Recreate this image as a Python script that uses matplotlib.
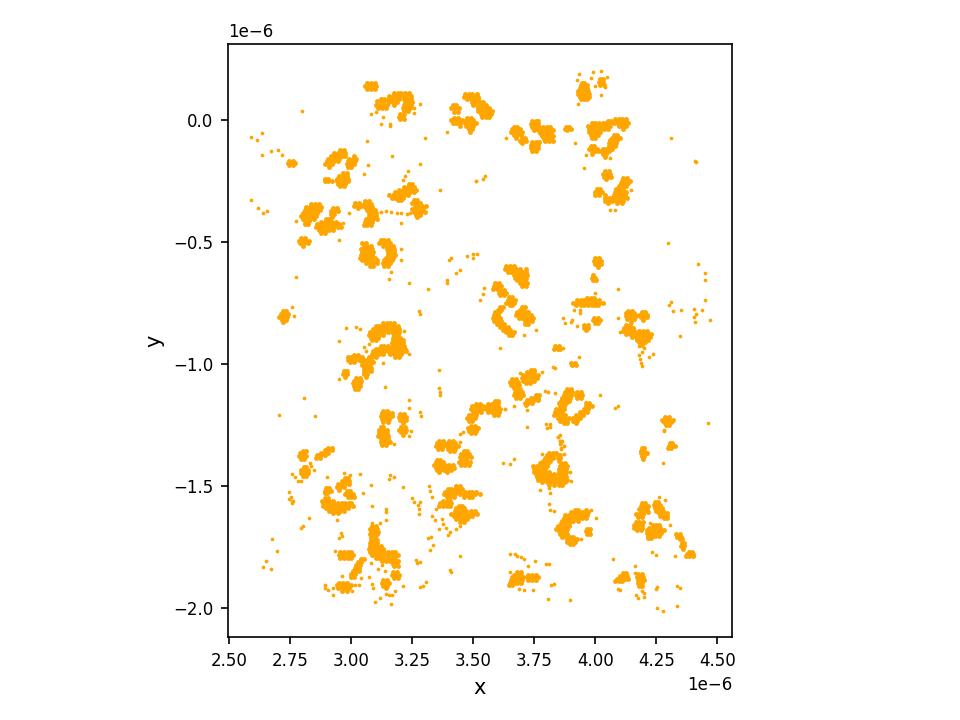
import matplotlib
matplotlib.use('Agg')
import matplotlib.pyplot as plt

# localisations, in units of 1e-6
# each entry is (y, [x values at that y])
north_west = [
    (.152, [3.065, 3.08, 3.095]), (.14, [3.055, 3.07, 3.085, 3.10]), (.128, [3.065, 3.08, 3.095]),
    (.09, [3.12, 3.135]), (.078, [3.105, 3.12, 3.135]), (.065, [3.10, 3.115, 3.13, 3.145]), (.052, [3.11, 3.125, 3.14]),
    (.112, [3.175, 3.19, 3.205, 3.22, 3.235]), (.10, [3.155, 3.17, 3.185, 3.20, 3.215, 3.23, 3.245]),
    (.088, [3.15, 3.165, 3.18, 3.195, 3.215, 3.23, 3.245]), (.075, [3.155, 3.17, 3.185, 3.22, 3.235, 3.25]),
    (.062, [3.175, 3.215, 3.23, 3.245]), (.05, [3.21, 3.225, 3.24]), (.038, [3.215, 3.23]),
    (.028, [3.20, 3.215]), (.016, [3.195, 3.21]), (.006, [3.20, 3.215]),
    (-.122, [2.955, 2.97]), (-.133, [2.93, 2.945, 2.96, 2.975]), (-.145, [2.915, 2.93, 2.945, 2.96, 2.975, 3.01]),
    (-.157, [2.905, 2.92, 2.935, 2.95, 2.99, 3.005, 3.02]), (-.168, [2.90, 2.915, 2.93, 2.945, 2.985, 3.0, 3.015]),
    (-.18, [2.892, 2.907, 2.922, 2.98, 2.995, 3.01]), (-.192, [2.91, 2.985, 3.0]),
    (-.217, [2.965, 2.98]), (-.228, [2.95, 2.965, 2.98]), (-.24, [2.89, 2.905, 2.94, 2.955, 2.97, 2.985]),
    (-.25, [2.89, 2.905, 2.92, 2.94, 2.955, 2.97, 2.985]), (-.26, [2.945, 2.96, 2.975]), (-.27, [2.955, 2.97]),
    (-.165, [2.745, 2.76]), (-.175, [2.74, 2.755, 2.768]), (-.183, [2.745, 2.76]),
    (-.342, [2.835, 2.85, 2.865]), (-.354, [2.815, 2.83, 2.845, 2.86, 2.875]), (-.366, [2.81, 2.825, 2.84, 2.855, 2.87]),
    (-.378, [2.80, 2.815, 2.83, 2.845, 2.86]), (-.39, [2.795, 2.81, 2.825, 2.84, 2.855]),
    (-.402, [2.80, 2.815, 2.83, 2.845]), (-.414, [2.81, 2.825]), (-.425, [2.81, 2.82]),
    (-.36, [2.925, 2.94]), (-.372, [2.915, 2.93, 2.945]), (-.384, [2.915, 2.93]), (-.394, [2.92]),
    (-.405, [2.895, 2.91]), (-.415, [2.875, 2.89, 2.905, 2.92, 2.935]),
    (-.426, [2.86, 2.875, 2.89, 2.905, 2.92, 2.935, 2.95]), (-.437, [2.855, 2.87, 2.885, 2.90, 2.915, 2.93, 2.945, 2.958]),
    (-.448, [2.865, 2.88, 2.895, 2.91, 2.925]), (-.46, [2.875, 2.89]),
    (-.482, [2.795, 2.81]), (-.493, [2.785, 2.80, 2.815, 2.825]), (-.504, [2.79, 2.805, 2.82]), (-.514, [2.80]),
    (-.337, [3.015, 3.03]), (-.35, [3.01, 3.025, 3.04]), (-.36, [3.025]),
    (-.332, [3.055, 3.07]), (-.344, [3.05, 3.065, 3.08]), (-.356, [3.055, 3.07, 3.085]), (-.368, [3.065, 3.08, 3.095]),
    (-.38, [3.07, 3.085, 3.10]), (-.392, [3.07, 3.085, 3.10]), (-.404, [3.06, 3.075, 3.09, 3.105]),
    (-.416, [3.055, 3.07, 3.085]), (-.428, [3.05, 3.065, 3.08]),
    (-.262, [3.235, 3.25]), (-.273, [3.215, 3.23, 3.245, 3.258]), (-.284, [3.195, 3.21, 3.225, 3.24, 3.255, 3.265]),
    (-.295, [3.18, 3.195, 3.21, 3.225, 3.24, 3.255]), (-.306, [3.155, 3.17, 3.185, 3.20, 3.215, 3.23]),
    (-.317, [3.165, 3.18, 3.195, 3.21]), (-.328, [3.19, 3.205]),
    (-.325, [3.255, 3.27]), (-.337, [3.25, 3.265, 3.28]), (-.35, [3.26, 3.275, 3.29, 3.305]),
    (-.362, [3.25, 3.265, 3.28, 3.295]), (-.374, [3.255, 3.27, 3.285, 3.30]), (-.386, [3.265, 3.28]), (-.396, [3.27]),
    (-.49, [3.12, 3.135, 3.15]), (-.502, [3.045, 3.06, 3.115, 3.13, 3.145, 3.16]), (-.514, [3.05, 3.065, 3.08, 3.13, 3.145, 3.16, 3.172]),
    (-.526, [3.04, 3.055, 3.07, 3.085, 3.145, 3.16, 3.175]), (-.538, [3.045, 3.06, 3.075, 3.09, 3.15, 3.165, 3.175]),
    (-.55, [3.04, 3.055, 3.07, 3.085, 3.15, 3.165, 3.178]), (-.562, [3.036, 3.05, 3.065, 3.08, 3.095, 3.14, 3.155, 3.17]),
    (-.574, [3.045, 3.06, 3.075, 3.09, 3.105, 3.135, 3.15, 3.165]), (-.586, [3.06, 3.075, 3.09, 3.105, 3.13, 3.145, 3.16]),
    (-.598, [3.075, 3.09, 3.135, 3.15]),
]

north_east = [
    (.062, [3.415, 3.43]), (.05, [3.41, 3.425, 3.44]), (.036, [3.42, 3.435]),
    (.11, [3.465, 3.48, 3.495, 3.515]), (.098, [3.46, 3.475, 3.49, 3.505, 3.52]), (.086, [3.475, 3.49, 3.505, 3.52]),
    (.074, [3.495, 3.51, 3.525, 3.54]), (.062, [3.50, 3.515, 3.53, 3.55]), (.05, [3.52, 3.535, 3.55, 3.565]),
    (.038, [3.52, 3.535, 3.55, 3.565, 3.575]), (.026, [3.53, 3.545, 3.56, 3.572]), (.014, [3.535, 3.55, 3.565]),
    (.01, [3.42, 3.435, 3.475, 3.49]), (0., [3.41, 3.425, 3.44, 3.455, 3.47, 3.485, 3.50]),
    (-.012, [3.415, 3.43, 3.445, 3.465, 3.48, 3.495, 3.51]), (-.024, [3.445, 3.47, 3.485, 3.50]), (-.036, [3.48, 3.495]), (-.046, [3.485]),
    (-.025, [3.665, 3.68]), (-.036, [3.66, 3.675, 3.69]), (-.048, [3.655, 3.67, 3.685, 3.70]), (-.06, [3.665, 3.68, 3.695]),
    (-.072, [3.675, 3.70, 3.712]), (-.083, [3.69, 3.705, 3.715]), (-.093, [3.70]),
    (-.002, [3.74, 3.755, 3.765]), (-.014, [3.735, 3.75, 3.765]), (-.026, [3.74, 3.755, 3.77, 3.785, 3.80, 3.815]),
    (-.038, [3.75, 3.765, 3.78, 3.795, 3.81, 3.825]), (-.05, [3.775, 3.79, 3.805, 3.82]), (-.062, [3.78, 3.795, 3.81, 3.825]),
    (-.074, [3.79, 3.805, 3.82]), (-.085, [3.795, 3.81, 3.825]),
    (-.09, [3.74, 3.755, 3.768]), (-.102, [3.735, 3.75, 3.765]), (-.114, [3.735, 3.75, 3.765]), (-.126, [3.74, 3.755]),
    (-.028, [3.88, 3.893]), (-.04, [3.885]), (-.034, [3.875, 3.898]),
    (.155, [3.945, 3.955]), (.145, [3.94, 3.955, 3.965]), (.134, [3.935, 3.95, 3.965]), (.122, [3.93, 3.945, 3.96, 3.97]),
    (.11, [3.93, 3.945, 3.96, 3.975]), (.098, [3.935, 3.95, 3.965, 3.975]), (.086, [3.94, 3.955, 3.965]),
    (.17, [4.02, 4.03]), (.158, [4.015, 4.03]), (.146, [4.02, 4.035]),
    (-.002, [4.05, 4.065, 4.08, 4.095, 4.11, 4.125]), (-.012, [4.03, 4.045, 4.06, 4.075, 4.09, 4.105, 4.12, 4.135]),
    (.004, [4.08, 4.095, 4.11, 4.125]),
    (-.012, [3.985, 4.0, 4.015]), (-.022, [3.97, 3.985, 4.0, 4.015, 4.03, 4.045, 4.06, 4.095, 4.11, 4.125]),
    (-.034, [3.975, 3.99, 4.005, 4.02, 4.035, 4.05, 4.115]), (-.046, [3.975, 3.99, 4.005, 4.02]),
    (-.058, [3.98, 3.995, 4.01, 4.075, 4.09]), (-.07, [3.985, 4.0, 4.07, 4.085, 4.10]),
    (-.082, [4.06, 4.075, 4.09]), (-.094, [4.055, 4.07, 4.085]), (-.106, [3.98, 3.995, 4.055, 4.07, 4.08]),
    (-.116, [3.975, 3.99, 4.005, 4.03, 4.045, 4.06, 4.07]), (-.127, [3.985, 4.0, 4.012, 4.025, 4.04, 4.055]),
    (-.138, [3.985, 4.03, 4.045]), (-.148, [4.04]),
    (-.207, [4.04, 4.055]), (-.218, [4.03, 4.045, 4.06]), (-.23, [4.035, 4.05, 4.065]), (-.24, [4.045]),
    (-.236, [4.115, 4.13]), (-.247, [4.11, 4.125, 4.14]), (-.258, [4.105, 4.12, 4.135]), (-.27, [4.095, 4.11, 4.125]),
    (-.282, [4.085, 4.10, 4.115, 4.005, 4.02]), (-.294, [4.08, 4.095, 4.11, 4.125, 3.998, 4.013, 4.028]),
    (-.306, [4.075, 4.09, 4.105, 4.12, 4.04, 3.998, 4.013]), (-.318, [4.04, 4.055, 4.07, 4.085, 4.10, 4.115, 4.128]),
    (-.33, [4.04, 4.055, 4.07, 4.085, 4.10, 4.115]), (-.34, [4.05, 4.09, 4.11]),
]

middle_left = [
    (-.782, [2.72, 2.73]), (-.792, [2.712, 2.727, 2.74]), (-.804, [2.705, 2.72, 2.735]), (-.816, [2.715, 2.73]), (-.826, [2.72]),
    (-.832, [3.13, 3.145, 3.16, 3.175]), (-.843, [3.10, 3.115, 3.13, 3.145, 3.16, 3.175, 3.19]),
    (-.855, [3.09, 3.105, 3.12, 3.135, 3.15, 3.165, 3.18, 3.195]), (-.867, [3.075, 3.09, 3.105, 3.12, 3.135, 3.15, 3.165, 3.18, 3.195]),
    (-.879, [3.07, 3.085, 3.10, 3.115, 3.13, 3.175, 3.19]), (-.891, [3.08, 3.095, 3.11, 3.17, 3.185, 3.20]),
    (-.901, [3.085, 3.10, 3.17, 3.185, 3.20, 3.21]), (-.913, [3.165, 3.18, 3.195, 3.21]),
    (-.924, [3.12, 3.135, 3.15, 3.17, 3.185, 3.20, 3.215]), (-.935, [3.10, 3.115, 3.13, 3.145, 3.16, 3.175, 3.19, 3.205, 3.22]),
    (-.947, [3.09, 3.105, 3.12, 3.135, 3.15, 3.165, 3.18, 3.195, 3.21, 3.222]), (-.959, [3.085, 3.10, 3.115, 3.13, 3.16, 3.175, 3.19, 3.205]),
    (-.97, [3.07, 3.085, 3.10, 3.18, 3.195]),
    (-.96, [3.01, 3.025]), (-.97, [2.985, 3.0, 3.015, 3.03, 3.045]), (-.981, [2.985, 3.0, 3.015, 3.03, 3.05, 3.065, 3.08]),
    (-.992, [2.995, 3.01, 3.045, 3.06, 3.075, 3.09]), (-1.004, [3.045, 3.06, 3.075]), (-1.016, [3.05, 3.065, 3.08]),
    (-1.028, [3.05, 3.065, 3.08, 2.97, 2.98]), (-1.04, [3.05, 3.065, 2.965, 2.98]), (-1.05, [3.06, 2.975]),
    (-1.056, [3.02, 3.035]), (-1.066, [3.01, 3.025, 3.04]), (-1.078, [3.005, 3.02, 3.035]), (-1.09, [3.01, 3.025, 3.035]), (-1.102, [3.015, 3.025]),
    (-1.19, [3.13, 3.145]), (-1.2, [3.125, 3.14, 3.155, 3.165]), (-1.212, [3.12, 3.135, 3.15, 3.165]), (-1.224, [3.125, 3.14, 3.155]), (-1.236, [3.13, 3.15]),
    (-1.205, [3.20, 3.215]), (-1.217, [3.197, 3.21, 3.225]), (-1.229, [3.2, 3.215, 3.225]), (-1.24, [3.21]),
    (-1.256, [3.205, 3.22]), (-1.267, [3.197, 3.212, 3.225]), (-1.278, [3.205, 3.22]), (-1.288, [3.21]),
    (-1.258, [3.12, 3.13]), (-1.27, [3.115, 3.13, 3.145]), (-1.282, [3.115, 3.13, 3.145]), (-1.294, [3.11, 3.125, 3.14, 3.15]),
    (-1.306, [3.12, 3.135, 3.15]), (-1.318, [3.12, 3.135, 3.15, 3.16]), (-1.33, [3.125, 3.14]),
]

middle_right = [
    (-.597, [3.635, 3.65, 3.665]), (-.608, [3.63, 3.645, 3.66, 3.675, 3.69, 3.715]), (-.62, [3.64, 3.655, 3.67, 3.685, 3.70, 3.715]),
    (-.632, [3.665, 3.68, 3.695, 3.71, 3.72]), (-.644, [3.67, 3.685, 3.70, 3.715]), (-.656, [3.68, 3.695, 3.71]),
    (-.668, [3.69, 3.705, 3.72, 3.59, 3.605]), (-.68, [3.70, 3.715, 3.585, 3.60, 3.615]), (-.69, [3.58, 3.595, 3.61]),
    (-.695, [3.61, 3.625]), (-.706, [3.605, 3.62, 3.633]), (-.717, [3.61, 3.625]),
    (-.724, [3.645, 3.66]), (-.735, [3.64, 3.655, 3.67]), (-.747, [3.635, 3.65, 3.665]), (-.757, [3.65, 3.66]),
    (-.765, [3.61, 3.62, 3.70, 3.71]), (-.775, [3.60, 3.615, 3.69, 3.705]), (-.787, [3.59, 3.605, 3.68, 3.695, 3.71, 3.725]),
    (-.799, [3.585, 3.60, 3.675, 3.69, 3.705, 3.72, 3.735]), (-.811, [3.58, 3.595, 3.61, 3.685, 3.70, 3.715, 3.73, 3.745]),
    (-.823, [3.585, 3.60, 3.615, 3.71, 3.725, 3.74]), (-.835, [3.595, 3.61, 3.625, 3.71, 3.722]),
    (-.847, [3.61, 3.625, 3.64]), (-.858, [3.62, 3.635, 3.65]), (-.869, [3.635, 3.65, 3.665]), (-.88, [3.645, 3.66]),
    (-.565, [4.0, 4.015]), (-.577, [3.995, 4.01, 4.025]), (-.589, [4.0, 4.015, 4.023]), (-.6, [4.01]),
    (-.634, [3.99]), (-.645, [3.987, 3.998]), (-.654, [3.99, 4.002]),
    (-.728, [3.965, 3.98, 3.995]), (-.738, [3.925, 3.94, 3.955, 3.97, 3.985, 4.0, 4.015]),
    (-.748, [3.91, 3.925, 3.94, 3.955, 3.97, 3.985, 4.0, 4.015, 4.03]), (-.758, [3.92, 3.94, 3.955, 3.97, 3.985, 4.0, 4.012]),
    (-.808, [3.995, 4.01]), (-.82, [3.99, 4.005, 4.017]), (-.832, [4.0, 4.01]),
    (-.84, [3.953, 3.968]), (-.85, [3.955, 3.97]), (-.86, [3.96]),
    (-.78, [4.135, 4.15]), (-.79, [4.127, 4.142, 4.157]), (-.802, [4.125, 4.14, 4.155, 4.168]), (-.814, [4.13, 4.145, 4.16]), (-.825, [4.145]),
    (-.785, [4.19, 4.205]), (-.796, [4.18, 4.195, 4.21]), (-.807, [4.185, 4.20, 4.21]), (-.816, [4.195]),
    (-.838, [4.125, 4.14]), (-.85, [4.117, 4.13, 4.145, 4.155]), (-.862, [4.115, 4.13, 4.145, 4.16, 4.18, 4.195, 4.21]),
    (-.874, [4.125, 4.14, 4.155, 4.17, 4.185, 4.20, 4.215, 4.23]), (-.886, [4.15, 4.165, 4.18, 4.195, 4.21, 4.225]),
    (-.898, [4.17, 4.185, 4.20, 4.215]), (-.91, [4.18, 4.195, 4.205]), (-.92, [4.19]),
    (-.925, [3.835, 3.85]), (-.936, [3.83, 3.845, 3.855]), (-.993, [3.90, 3.915]), (-1.004, [3.905, 3.92]),
    (-1.022, [3.735, 3.75]), (-1.032, [3.72, 3.735, 3.75]), (-1.043, [3.705, 3.72, 3.735, 3.75, 3.765]),
    (-1.055, [3.70, 3.715, 3.73, 3.745, 3.76]), (-1.067, [3.705, 3.72, 3.735, 3.75]), (-1.078, [3.715, 3.73]),
    (-1.06, [3.66, 3.675]), (-1.072, [3.652, 3.667, 3.682]), (-1.084, [3.655, 3.67, 3.685]), (-1.095, [3.665, 3.68]),
    (-1.102, [3.68, 3.69]), (-1.114, [3.67, 3.685, 3.70]), (-1.126, [3.665, 3.68, 3.695, 3.705]), (-1.138, [3.675, 3.69]),
    (-1.125, [3.755, 3.768]), (-1.136, [3.735, 3.75, 3.765]), (-1.147, [3.72, 3.735, 3.75, 3.765]), (-1.158, [3.71, 3.725, 3.74]), (-1.168, [3.715]),
    (-1.1, [3.885, 3.90]), (-1.112, [3.875, 3.89, 3.905, 3.925, 3.94]), (-1.124, [3.87, 3.885, 3.90, 3.92, 3.935, 3.945]),
    (-1.136, [3.865, 3.88, 3.895, 3.925, 3.94]), (-1.148, [3.86, 3.875, 3.89]), (-1.16, [3.85, 3.865, 3.88, 3.96, 3.975]),
    (-1.172, [3.855, 3.87, 3.96, 3.975, 3.988]), (-1.184, [3.84, 3.855, 3.87, 3.955, 3.97]),
    (-1.196, [3.835, 3.85, 3.865, 3.935, 3.95, 3.965]), (-1.208, [3.83, 3.845, 3.86, 3.875, 3.92, 3.935, 3.95]),
    (-1.22, [3.845, 3.86, 3.875, 3.89, 3.91, 3.925, 3.935]), (-1.232, [3.855, 3.87, 3.885, 3.91, 3.925]), (-1.242, [3.87, 3.885, 3.92]),
    (-1.162, [3.51, 3.525, 3.56, 3.575]), (-1.172, [3.495, 3.51, 3.525, 3.54, 3.555, 3.57, 3.585, 3.60]),
    (-1.183, [3.49, 3.505, 3.52, 3.535, 3.55, 3.565, 3.58, 3.595, 3.61]), (-1.195, [3.50, 3.515, 3.53, 3.56, 3.575, 3.59, 3.605]),
    (-1.206, [3.48, 3.495, 3.51, 3.585, 3.60]), (-1.218, [3.475, 3.49, 3.505]), (-1.23, [3.48, 3.495]),
    (-1.15, [3.59, 3.6]), (-1.16, [3.585, 3.60]),
    (-1.252, [3.49, 3.505]), (-1.262, [3.478, 3.493, 3.508, 3.52]), (-1.273, [3.48, 3.495, 3.51]), (-1.283, [3.49, 3.505]),
    (-1.215, [4.285, 4.30]), (-1.226, [4.275, 4.29, 4.305, 4.317]), (-1.238, [4.28, 4.295, 4.31]), (-1.249, [4.29, 4.30]),
    (-1.322, [4.305, 4.315]), (-1.333, [4.30, 4.315, 4.325]), (-1.343, [4.298, 4.31]),
]

south_west = [
    (-1.354, [2.80, 2.812]), (-1.365, [2.79, 2.805]), (-1.377, [2.785, 2.80, 2.813]), (-1.388, [2.795, 2.805]),
    (-1.342, [2.905, 2.92]), (-1.352, [2.89, 2.905, 2.92]), (-1.362, [2.875, 2.89, 2.905]), (-1.373, [2.86, 2.875, 2.89]), (-1.384, [2.855, 2.87]),
    (-1.422, [2.805, 2.815]), (-1.433, [2.795, 2.81, 2.822]), (-1.445, [2.795, 2.81, 2.822]), (-1.456, [2.80, 2.812]),
    (-1.467, [2.975, 2.985]), (-1.478, [2.96, 2.975, 2.99]), (-1.49, [2.945, 2.96, 2.975, 2.99]), (-1.502, [2.94, 2.955, 2.97]), (-1.513, [2.95]),
    (-1.505, [2.895, 2.91]), (-1.517, [2.89, 2.905, 2.915]), (-1.529, [2.89, 2.90]),
    (-1.518, [2.98, 2.995]), (-1.53, [2.975, 2.99, 3.005]), (-1.542, [2.985, 3.0, 3.012]),
    (-1.548, [2.89, 2.905]), (-1.558, [2.88, 2.895, 2.91, 2.925]), (-1.568, [2.885, 2.90, 2.915, 2.93, 2.945, 2.96, 2.975, 2.99, 3.0]),
    (-1.579, [2.885, 2.90, 2.915, 2.93, 2.945, 2.96, 2.975, 2.99, 3.005]), (-1.59, [2.895, 2.91, 2.925, 2.94, 2.955, 2.97, 2.985]),
    (-1.601, [2.91, 2.925, 2.94, 2.955, 2.97]), (-1.611, [2.925, 2.945]),
    (-1.662, [3.085, 3.10]), (-1.673, [3.075, 3.09, 3.105]), (-1.685, [3.08, 3.095, 3.11]), (-1.697, [3.075, 3.09, 3.105]),
    (-1.709, [3.08, 3.095]), (-1.721, [3.08, 3.095, 3.105]), (-1.733, [3.075, 3.09, 3.105]),
    (-1.745, [3.075, 3.09, 3.105, 3.12]), (-1.757, [3.07, 3.085, 3.10, 3.115, 3.13]),
    (-1.769, [3.075, 3.09, 3.105, 3.12, 3.135, 3.15, 3.165, 3.18]), (-1.781, [3.085, 3.10, 3.115, 3.13, 3.145, 3.16, 3.175, 3.19]),
    (-1.793, [3.10, 3.115, 3.13, 3.15, 3.165, 3.18]), (-1.805, [3.125, 3.14, 3.16, 3.175, 3.19]),
    (-1.817, [3.17, 3.185]), (-1.828, [3.175, 3.19]),
    (-1.771, [2.955, 2.97, 2.985, 3.0]), (-1.782, [2.95, 2.965, 2.98, 2.995, 3.008]), (-1.793, [2.955, 2.97, 2.985, 3.0]),
    (-1.798, [3.04, 3.05]), (-1.81, [3.025, 3.04]), (-1.822, [3.02, 3.035]), (-1.834, [3.015, 3.03]),
    (-1.846, [3.005, 3.02, 3.03]), (-1.858, [3.0, 3.015]), (-1.87, [2.998, 3.01]),
    (-1.85, [3.17, 3.185]), (-1.862, [3.165, 3.18, 3.195]), (-1.874, [3.175, 3.19]),
    (-1.885, [3.13, 3.145]), (-1.897, [3.125, 3.14, 3.155]), (-1.908, [3.13, 3.145]), (-1.918, [3.14]),
    (-1.896, [2.95, 2.965, 2.98]), (-1.906, [2.94, 2.955, 2.97, 2.985, 2.998]), (-1.917, [2.945, 2.96, 2.975, 2.99]), (-1.928, [2.96, 2.98]),
    (-1.313, [3.36, 3.375, 3.40, 3.415]), (-1.324, [3.35, 3.365, 3.38, 3.395, 3.41, 3.425]), (-1.335, [3.345, 3.36, 3.375, 3.39, 3.405, 3.42, 3.437]),
    (-1.346, [3.355, 3.37, 3.395, 3.41, 3.425]), (-1.357, [3.405, 3.42]),
    (-1.39, [3.35, 3.365, 3.45, 3.47]), (-1.356, [3.46, 3.475]), (-1.367, [3.45, 3.465, 3.48]), (-1.379, [3.445, 3.46, 3.475, 3.49]),
    (-1.401, [3.345, 3.36, 3.375, 3.44, 3.455, 3.47, 3.485]), (-1.412, [3.34, 3.355, 3.37, 3.385, 3.40, 3.415, 3.45, 3.465, 3.48]),
    (-1.423, [3.345, 3.36, 3.375, 3.39, 3.405, 3.42]), (-1.434, [3.35, 3.365, 3.38, 3.395, 3.41]), (-1.443, [3.36, 3.39]),
    (-1.5, [3.43, 3.445]), (-1.51, [3.395, 3.41, 3.425, 3.44, 3.455]), (-1.521, [3.385, 3.40, 3.415, 3.43, 3.45, 3.465, 3.48, 3.495, 3.51]),
    (-1.532, [3.38, 3.395, 3.41, 3.425, 3.445, 3.46, 3.475, 3.49, 3.505, 3.525]), (-1.543, [3.39, 3.405, 3.42, 3.46, 3.48, 3.495]),
    (-1.558, [3.375, 3.39, 3.405]), (-1.569, [3.365, 3.38, 3.395, 3.41]), (-1.58, [3.36, 3.375, 3.39, 3.405, 3.44, 3.455]),
    (-1.59, [3.43, 3.445, 3.46]), (-1.601, [3.425, 3.44, 3.455, 3.47, 3.49, 3.505]), (-1.612, [3.41, 3.425, 3.44, 3.455, 3.47, 3.485, 3.50, 3.515]),
    (-1.623, [3.42, 3.435, 3.45, 3.465, 3.48, 3.495]), (-1.634, [3.43, 3.445, 3.46, 3.475]), (-1.645, [3.445, 3.46]),
]

south_east = [
    (-1.362, [3.81, 3.825, 3.84]), (-1.372, [3.80, 3.815, 3.83, 3.845, 3.855]), (-1.383, [3.795, 3.81, 3.825, 3.845, 3.855]),
    (-1.394, [3.785, 3.80, 3.815, 3.85]), (-1.405, [3.775, 3.79, 3.805, 3.86, 3.875]),
    (-1.416, [3.745, 3.76, 3.775, 3.79, 3.80, 3.855, 3.87, 3.885]), (-1.428, [3.75, 3.765, 3.78, 3.795, 3.85, 3.865, 3.88]),
    (-1.44, [3.75, 3.765, 3.78, 3.795, 3.81, 3.85, 3.865, 3.88]), (-1.451, [3.755, 3.77, 3.785, 3.80, 3.815, 3.83, 3.845, 3.86, 3.875]),
    (-1.462, [3.76, 3.775, 3.79, 3.805, 3.82, 3.835, 3.85, 3.865, 3.88]), (-1.473, [3.765, 3.78, 3.795, 3.81, 3.825, 3.84, 3.855, 3.87, 3.882]),
    (-1.484, [3.78, 3.80, 3.815, 3.83, 3.845, 3.86, 3.875]), (-1.495, [3.81, 3.83, 3.85, 3.865]),
    (-1.597, [3.915, 3.93, 3.96]), (-1.607, [3.90, 3.915, 3.93, 3.945, 3.96, 3.97]), (-1.618, [3.875, 3.89, 3.905, 3.92, 3.935, 3.95, 3.965]),
    (-1.629, [3.87, 3.885, 3.90, 3.915, 3.93, 3.945, 3.96]), (-1.64, [3.865, 3.88, 3.895, 3.91, 3.93]),
    (-1.651, [3.86, 3.875, 3.89]), (-1.662, [3.845, 3.86, 3.875, 3.89]), (-1.673, [3.84, 3.855, 3.87, 3.885, 3.965, 3.977]),
    (-1.684, [3.85, 3.865, 3.88, 3.96, 3.975]), (-1.695, [3.855, 3.87, 3.885, 3.965, 3.977]), (-1.706, [3.865, 3.88, 3.895, 3.91]),
    (-1.717, [3.885, 3.90, 3.915, 3.925]), (-1.728, [3.885, 3.90, 3.915]), (-1.737, [3.895, 3.91]),
    (-1.852, [3.68, 3.695]), (-1.862, [3.665, 3.68, 3.695, 3.725, 3.74, 3.755]), (-1.873, [3.66, 3.675, 3.69, 3.705, 3.72, 3.735, 3.75, 3.765]),
    (-1.884, [3.655, 3.67, 3.685, 3.70, 3.725, 3.74, 3.755]), (-1.895, [3.65, 3.665, 3.68, 3.695]), (-1.906, [3.645, 3.66]),
    (-1.857, [4.115, 4.125]), (-1.868, [4.10, 4.115, 4.13]), (-1.878, [4.09, 4.105, 4.12, 4.135]), (-1.888, [4.08, 4.095, 4.11]),
    (-1.86, [4.175, 4.19]), (-1.872, [4.17, 4.185, 4.197]), (-1.884, [4.175, 4.19, 4.2]), (-1.896, [4.175, 4.19]), (-1.908, [4.18, 4.19]),
    (-1.342, [4.19, 4.2]), (-1.353, [4.187, 4.20]), (-1.365, [4.185, 4.20, 4.21]), (-1.376, [4.19, 4.20]), (-1.388, [4.195]),
    (-1.57, [4.19, 4.205]), (-1.581, [4.185, 4.20, 4.215]), (-1.592, [4.18, 4.195, 4.21]), (-1.603, [4.185, 4.20, 4.215]),
    (-1.614, [4.165, 4.18, 4.195]), (-1.625, [4.175, 4.19]),
    (-1.566, [4.245, 4.255]), (-1.577, [4.24, 4.255, 4.265]), (-1.588, [4.245, 4.26, 4.275]), (-1.599, [4.25, 4.265, 4.278]),
    (-1.61, [4.26, 4.275, 4.295]), (-1.62, [4.265, 4.28, 4.295]), (-1.631, [4.28, 4.292]),
    (-1.648, [4.165, 4.18, 4.195]), (-1.658, [4.16, 4.175, 4.19, 4.235, 4.25, 4.26]), (-1.669, [4.16, 4.175, 4.19, 4.22, 4.235, 4.25, 4.265]),
    (-1.68, [4.17, 4.185, 4.21, 4.225, 4.24, 4.255, 4.27, 4.28]), (-1.691, [4.21, 4.225, 4.24, 4.255, 4.27]),
    (-1.702, [4.215, 4.23, 4.245, 4.26]), (-1.713, [4.215, 4.23]),
    (-1.697, [4.33, 4.345]), (-1.708, [4.335, 4.35]), (-1.716, [4.345, 4.355]),
    (-1.733, [4.355, 4.365]), (-1.745, [4.352, 4.365]), (-1.755, [4.36]),
    (-1.768, [4.385, 4.395]), (-1.777, [4.375, 4.39, 4.40]), (-1.786, [4.37, 4.385, 4.40]),
]

stray_x = [2.799, 2.59, 2.614, 2.635, 2.635, 2.672, 2.70, 2.717, 2.59, 2.618, 2.639, 2.655, 2.774, 3.062, 3.168, 3.30, 3.279,
           3.066, 3.05, 3.23, 3.218, 3.21, 3.361, 3.509, 3.39, 2.988, 2.967, 2.951, 2.774, 3.082, 3.099, 3.131, 3.123, 3.16, 3.16,
           3.283, 3.255, 3.255, 3.205, 3.123, 3.143, 3.164, 3.185, 3.205, 3.226, 3.24, 3.263, 3.205, 3.205, 3.164, 3.156, 3.234,
           3.312, 3.39, 3.39, 3.427, 3.443, 3.398, 3.408, 3.472, 3.497, 3.513, 3.497,
           3.932, 3.989, 4.022, 4.047, 3.981, 3.923, 3.928, 4.022, 4.038, 3.997, 3.915, 3.952, 3.96, 4.059, 4.309, 4.408, 4.412,
           4.297, 4.42, 4.449, 4.449, 4.059, 4.079, 3.509, 3.538, 3.546, 3.632, 4.092, 4.144,
           4.449, 3.997, 4.301, 4.309, 4.317, 4.35, 4.404, 4.412, 4.404, 4.408, 4.436, 4.469, 4.346, 4.092, 4.10, 3.866, 3.874,
           3.899, 3.903, 3.923, 3.936, 3.936, 3.911, 3.755, 3.706, 3.607, 3.525, 3.538, 3.542, 4.178, 4.182, 4.186, 4.19, 4.19,
           4.198, 4.178, 4.219, 4.235, 3.932, 3.825, 3.833, 3.866, 3.78, 3.69, 3.792, 3.804, 3.833, 4.018, 4.079, 4.092, 3.718,
           3.718, 3.665, 3.628, 4.461, 4.28, 3.796, 3.80, 3.813, 3.813, 3.847, 3.854, 3.854, 3.861, 3.87, 3.861,
           2.758, 2.766, 2.979, 3.02, 3.037, 2.951, 2.951, 3.139, 3.131, 3.217, 3.238, 3.053, 3.061, 3.07, 3.275, 3.283, 3.357,
           3.357, 3.361, 3.365, 3.238, 3.238, 3.283, 3.287, 2.807, 2.704, 2.852, 3.246, 3.234, 3.176, 3.443, 3.459, 3.443, 3.628,
           2.758, 2.77, 2.782, 2.795, 2.832, 2.836, 2.848, 2.745, 2.745, 2.754, 2.758, 2.762, 2.758, 2.827, 2.795, 2.803, 2.676,
           2.696, 2.651, 2.639, 2.672, 2.901, 2.971, 2.996, 3.037, 3.049, 3.082, 3.086, 3.16, 3.156, 3.176, 3.213, 3.143, 3.143,
           3.143, 2.942, 2.959, 2.963, 2.947, 2.934, 3.086, 3.119, 3.25, 3.258, 3.271, 3.275, 3.283, 3.275, 3.316, 3.324, 3.332,
           3.345, 3.332, 3.341, 3.373, 3.377, 3.357, 3.386, 3.406, 3.394, 3.427, 3.447, 3.312, 3.328, 3.336, 3.324, 3.447, 3.263,
           3.267, 3.279, 3.406, 3.41, 3.082, 3.107, 3.127, 3.139, 3.07, 2.963, 3.041, 3.016, 3.033, 3.004, 2.893, 2.905, 2.926,
           2.926, 2.893, 3.086, 3.09, 3.098, 3.119, 3.164, 3.143, 3.152, 3.168, 3.18, 3.213, 3.283, 3.295, 3.304,
           3.62, 3.648, 3.665, 3.845, 3.854, 3.862, 3.854, 3.87, 3.858, 3.78, 3.87, 3.899, 3.895, 3.774, 3.808, 3.813, 3.808,
           3.813, 3.829, 3.981, 4.001, 3.94, 3.648, 3.669, 3.677, 3.694, 3.706, 3.751, 3.722, 3.648, 3.796, 3.808, 3.817, 3.829,
           3.804, 3.895, 3.743, 3.685, 3.706, 4.071, 4.161, 4.161, 4.092, 4.10, 4.165, 4.174, 4.19, 4.198, 4.198, 4.248, 4.252,
           4.252, 4.276, 4.334, 4.334, 4.346, 4.326, 4.231, 4.248, 4.26, 4.284, 4.276, 4.28, 4.305, 4.223]
stray_y = [.039, -.067, -.08, -.051, -.141, -.124, -.12, -.141, -.325, -.358, -.378, -.37, -.64, -.084, -.145, -.071, -.178,
           -.182, -.219, -.206, -.228, -.243, -.284, -.247, -.047, -.378, -.419, -.488, -.411, .027, .035, .015, -.014, -.014, -.022,
           .068, .051, .031, -.419, -.375, -.37, -.375, -.378, -.378, -.384, -.381, -.372, -.525, -.57, -.623, -.648, -.668,
           -.689, -.655, -.668, -.627, -.611, -.574, -.562, -.554, -.546, -.546, -.562,
           .19, .199, .203, .178, .174, .166, .068, .103, .137, .141, -.092, -.194, -.141, -.153, -.071, -.165, -.169,
           -.501, -.587, -.627, -.656, -.366, -.366, -.247, -.239, -.227, -.071, -.689, -.284,
           -.734, -.709, -.758, -.746, -.783, -.775, -.771, -.795, -.807, -.828, -.779, -.816, -.885, -.811, -.869, -.811, -.832,
           -.828, -.82, -.844, -.775, -.791, -.775, -.861, -.881, -.934, -.738, -.713, -.685, -.963, -.979, -.996, -1.008, -.95,
           -.934, -.926, -.968, -.959, -.971, -1.009, -1.016, -.934, -1.032, -1.036, -1.11, -1.114, -1.118, -1.126, -1.18, -1.171, -1.257,
           -1.188, -1.171, -1.184, -1.241, -1.27, -1.245, -1.261, -1.244, -1.257, -1.298, -1.29, -1.316, -1.323, -1.336, -1.345,
           -.766, -.803, -.852, -.848, -.856, -.905, -1.06, -1.093, -.995, -.864, -.958, -.93, -.946, -.917, -.782, -.795, -1.024,
           -1.097, -1.114, -1.126, -1.146, -1.179, -1.195, -1.212, -1.138, -1.208, -1.212, -1.273, -1.294, -1.326, -1.285, -1.277, -1.318, -1.183,
           -1.449, -1.462, -1.478, -1.478, -1.404, -1.415, -1.432, -1.523, -1.552, -1.543, -1.56, -1.56, -1.568, -1.629, -1.67, -1.662, -1.715,
           -1.764, -1.805, -1.83, -1.838, -1.462, -1.445, -1.453, -1.449, -1.527, -1.494, -1.58, -1.453, -1.47, -1.462, -1.502, -1.593, -1.605,
           -1.638, -1.638, -1.691, -1.703, -1.711, -1.764, -1.65, -1.65, -1.548, -1.564, -1.576, -1.592, -1.564, -1.613, -1.498, -1.519, -1.543,
           -1.592, -1.621, -1.637, -1.633, -1.654, -1.674, -1.67, -1.687, -1.699, -1.674, -1.662, -1.711, -1.707, -1.74, -1.76, -1.785, -1.801,
           -1.813, -1.809, -1.842, -1.85, -1.813, -1.838, -1.824, -1.846, -1.87, -1.866, -1.875, -1.903, -1.903, -1.928, -1.903, -1.924, -1.944,
           -1.916, -1.916, -1.902, -1.916, -1.973, -1.956, -1.981, -1.94, -1.947, -1.944, -1.928, -1.907, -1.911, -1.909, -1.891,
           -1.404, -1.408, -1.388, -1.298, -1.314, -1.314, -1.327, -1.335, -1.343, -1.368, -1.368, -1.478, -1.441, -1.513, -1.507, -1.527, -1.572,
           -1.597, -1.6, -1.597, -1.629, -1.715, -1.777, -1.777, -1.785, -1.789, -1.797, -1.805, -1.826, -1.85, -1.817, -1.817, -1.903, -1.899,
           -1.961, -1.965, -1.924, -1.92, -1.924, -1.797, -1.826, -1.854, -1.92, -1.924, -1.944, -1.957, -1.928, -1.936, -1.952, -1.92, -1.911,
           -2.0, -2.01, -1.989, -1.907, -1.916, -1.785, -1.768, -1.781, -1.543, -1.556, -1.404, -1.271, -1.658, -1.65]

assert len(stray_x) == len(stray_y), (len(stray_x), len(stray_y))

blob_x = []
blob_y = []
for region in [north_west, north_east, middle_left, middle_right, south_west, south_east]:
    for row_y, row_x in region:
        blob_x += row_x
        blob_y += [row_y] * len(row_x)

fig, ax = plt.subplots(figsize=(6.4, 4.8), dpi=150)
ax.scatter([v * 1e-6 for v in blob_x], [v * 1e-6 for v in blob_y], s=5.5, c='orange', marker='o', linewidths=0)
ax.scatter([v * 1e-6 for v in stray_x], [v * 1e-6 for v in stray_y], s=3.2, c='orange', marker='o', linewidths=0)
ax.set_xlabel('x')
ax.set_ylabel('y')
ax.set_xlim(2.494e-6, 4.56e-6)
ax.set_ylim(-2.119e-6, 0.315e-6)
ax.set_aspect('equal')
ax.tick_params(labelsize=8)
ax.xaxis.get_offset_text().set_fontsize(8)
ax.yaxis.get_offset_text().set_fontsize(8)
fig.subplots_adjust(left=228 / 960, right=732 / 960, top=1 - 43 / 720, bottom=1 - 638 / 720)
fig.savefig('out.png', dpi=150)
